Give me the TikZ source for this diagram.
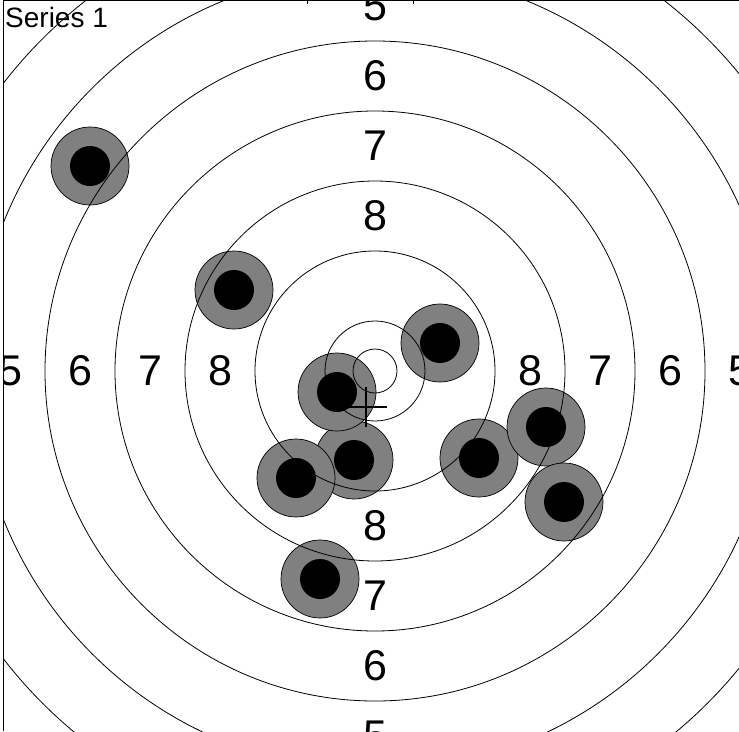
\documentclass[tikz,border=0pt]{standalone}
\usepackage{fontspec}
\setmainfont{Liberation Sans}
\definecolor{shotgrey}{RGB}{128,128,128}
\tikzset{
	ring/.style={line width=0.8pt},
	shotdisc/.style={fill=shotgrey,draw=black,line width=0.7pt},
	shotcore/.style={fill=black},
	score/.style={inner sep=0pt,font=\fontsize{43}{43}\selectfont},
}
\begin{document}
\begin{tikzpicture}[x=1pt,y=-1pt]
	\useasboundingbox (0,0) rectangle (739,731);
	\begin{scope}
		\clip (3.5,0.8) rectangle (739,731);
		\coordinate (c) at (375,371);
		% shots, outer discs first
		\foreach \sx/\sy in {90/166,234/290,440/343,354/460,337/392,296/478,479/458,546/427,564/502,320/579}
			\draw[shotdisc] (\sx,\sy) circle(39);
		% rings
		\foreach \r in {22,50,120,190,260,330,400,470}
			\draw[ring] (c) circle(\r);
		\foreach \sx/\sy in {90/166,234/290,440/343,354/460,337/392,296/478,479/458,546/427,564/502,320/579}
			\fill[shotcore] (\sx,\sy) circle(20);
		% scores
		\foreach \lab/\d in {8/155,7/225,6/295,5/365} {
			\node[score] (w\lab) at ([xshift=-\d pt]c) {\lab};
			\node[score] (e\lab) at ([xshift=\d pt]c) {\lab};
			\node[score] (n\lab) at ([yshift=\d pt]c) {\lab};
			\node[score] (s\lab) at ([yshift=-\d pt]c) {\lab};
		}
		% mean point
		\draw[line width=1.8pt] (347,407) -- (387,407) (366,387) -- (366,427);
	\end{scope}
	\node[anchor=base west,inner sep=0pt,font=\fontsize{28}{28}\selectfont] (title) at (5,27) {Series 1};
	\draw[line width=1.2pt] (3.5,731) -- (3.5,0.8) -- (739,0.8);
	\draw (307,0) -- (307,3.5) (413,0) -- (413,3.5);
\end{tikzpicture}
\end{document}
